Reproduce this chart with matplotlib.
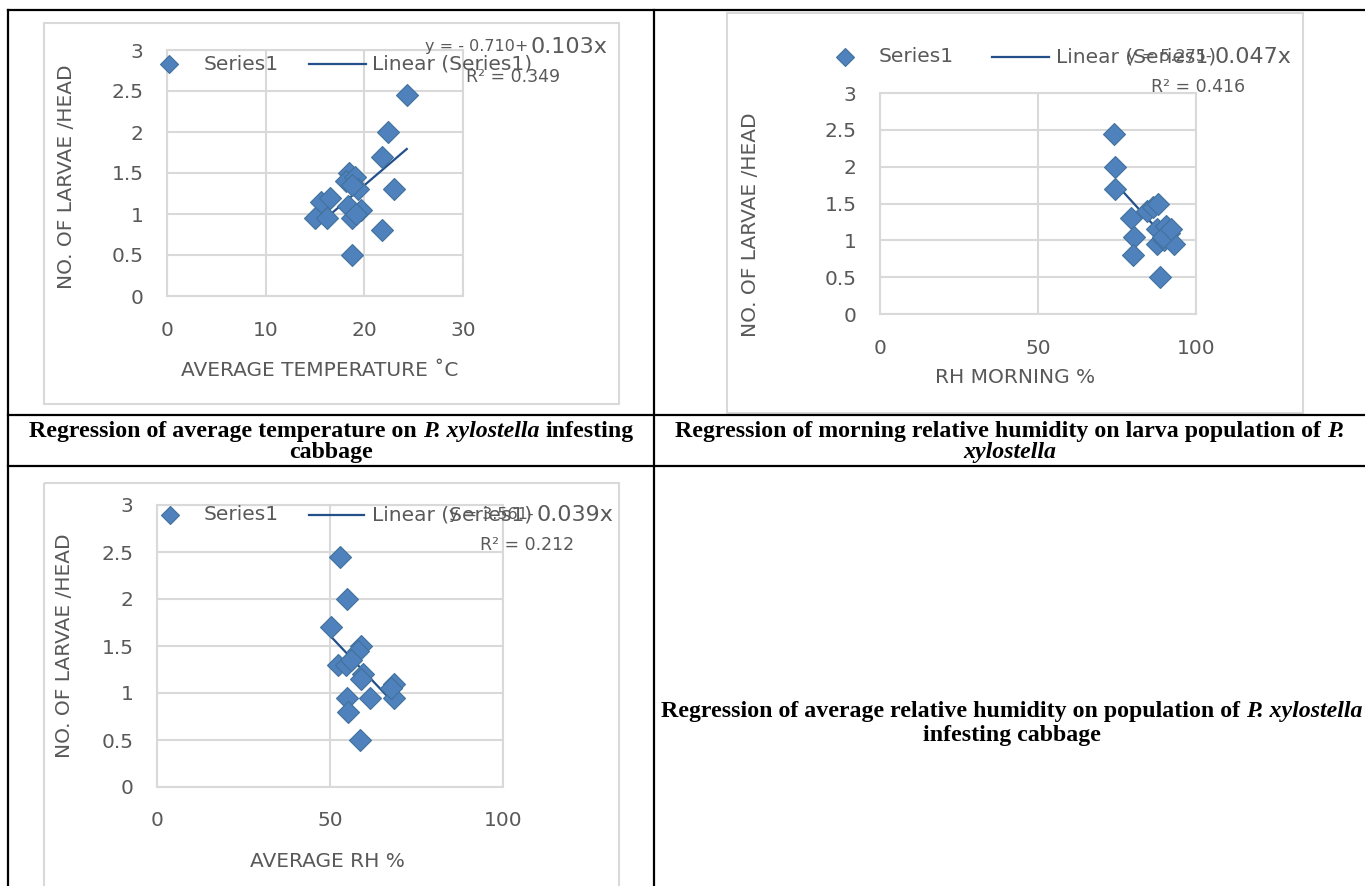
import matplotlib
matplotlib.use('Agg')
import matplotlib.pyplot as plt
from matplotlib.lines import Line2D
from matplotlib.patches import Rectangle
from matplotlib.transforms import Affine2D

# data
temp_c = [24.3, 22.4, 21.8, 23.0, 21.8, 18.7, 18.4, 18.1, 19.1, 19.4, 18.8,
          15.6, 16.5, 15.0, 16.2, 18.3, 18.8, 19.7, 19.2]
larvae_t = [2.45, 2.0, 1.7, 1.3, 0.8, 0.5, 1.5, 1.4, 1.45, 1.3, 1.35,
            1.15, 1.2, 0.95, 0.95, 1.1, 0.95, 1.05, 1.0]

rh_morning = [74.0, 74.5, 74.5, 79.5, 80.5, 80.0, 88.5, 84.5, 86.5, 88.0,
              87.5, 90.5, 91.5, 87.5, 90.0, 93.0, 89.5, 92.0]
larvae_m = [2.45, 2.0, 1.7, 1.3, 1.05, 0.8, 0.5, 1.4, 1.45, 1.5,
            1.15, 1.2, 1.1, 0.95, 1.0, 0.95, 1.05, 1.15]

rh_avg = [52.8, 54.8, 50.4, 59.0, 58.0, 52.3, 54.5, 56.0, 59.5, 59.0,
          68.5, 68.5, 67.5, 54.8, 61.5, 55.2, 58.6]
larvae_a = [2.45, 2.0, 1.7, 1.5, 1.45, 1.3, 1.3, 1.35, 1.2, 1.15,
            1.1, 0.95, 1.05, 0.95, 0.95, 0.8, 0.5]

# trendline coefficients (intercept, slope) and R^2 as printed
fit_t = (-0.710, 0.103, 0.349)
fit_m = (5.275, -0.047, 0.416)
fit_a = (3.561, -0.039, 0.212)

W, H = 1365, 886
fig = plt.figure(figsize=(W / 100, H / 100), dpi=100)
# pixel coords, y pointing down
pix = Affine2D().scale(1 / W, -1 / H).translate(0, 1) + fig.transFigure

BLUE = '#4F81BD'
EDGE = '#41719C'
TREND = '#23508A'
GRID = '#D9D9D9'
TXT = '#595959'
FS = 14.5


def add_axes_px(x0, y0, x1, y1):
    return fig.add_axes([x0 / W, 1 - y1 / H, (x1 - x0) / W, (y1 - y0) / H])


def chart(frame, plot, x, y, fit, xmax, xticks, xlabel, xlab_pos, ylab_pos,
          leg, eq, r2pos, xpad, ypad):
    fig.add_artist(Rectangle((frame[0], frame[1]), frame[2] - frame[0], frame[3] - frame[1],
                             transform=pix, fill=False, ec=GRID, lw=1.5))
    ax = add_axes_px(*plot)
    ax.set_xlim(0, xmax)
    ax.set_ylim(0, 3)
    ax.set_xticks(xticks)
    ax.set_yticks([0, 0.5, 1, 1.5, 2, 2.5, 3])
    ax.set_yticklabels(['0', '0.5', '1', '1.5', '2', '2.5', '3'])
    ax.grid(True, color=GRID, lw=1.5)
    ax.set_axisbelow(True)
    for s in ax.spines.values():
        s.set_color(GRID)
        s.set_linewidth(1.5)
    ax.tick_params(length=0, labelsize=FS, colors=TXT)
    ax.tick_params(axis='x', pad=xpad)
    ax.tick_params(axis='y', pad=ypad)
    ax.patch.set_alpha(0)

    ax.plot(x, y, 'D', ms=11, mfc=BLUE, mec=EDGE, mew=0.8, ls='none', clip_on=False, zorder=3)
    b0, b1, r2 = fit
    xs = [min(x), max(x)]
    ax.plot(xs, [b0 + b1 * v for v in xs], color=TREND, lw=1.6, zorder=2)

    ax.set_xlabel(xlabel, fontsize=FS, color=TXT, va='center', ha='center')
    ax.xaxis.set_label_coords(xlab_pos[0], xlab_pos[1], transform=pix)
    ax.set_ylabel('NO. OF LARVAE /HEAD', fontsize=FS, color=TXT, va='center', ha='center')
    ax.yaxis.set_label_coords(ylab_pos[0], ylab_pos[1], transform=pix)

    # legend drawn in pixel space
    dx, dy, tx, l0, l1, tx2 = leg
    fig.add_artist(Line2D([dx], [dy], transform=pix, marker='D', ms=9.5, mfc=BLUE, mec=EDGE, mew=0.8))
    fig.text(tx, dy, 'Series1', transform=pix, fontsize=FS, color=TXT, va='center', ha='left')
    fig.add_artist(Line2D([l0, l1], [dy, dy], transform=pix, color=TREND, lw=1.6))
    fig.text(tx2, dy, 'Linear (Series1)', transform=pix, fontsize=FS, color=TXT, va='center', ha='left')

    # trendline equation and R^2
    ex, ey, small = eq
    fig.text(ex - 3, ey, small, transform=pix, fontsize=11.5, color=TXT, va='center', ha='right')
    fig.text(ex, ey, '%.3fx' % abs(b1), transform=pix, fontsize=16, color=TXT, va='center', ha='left')
    fig.text(r2pos[0], r2pos[1], 'R² = %.3f' % r2, transform=pix, fontsize=12.5, color=TXT,
             va='center', ha='center')
    return ax


chart((44, 23, 619, 404), (167, 50, 463, 296), temp_c, larvae_t, fit_t, 30, [0, 10, 20, 30],
      'AVERAGE TEMPERATURE ˚C', (320, 370), (67, 177),
      (169, 64, 204, 309, 366, 372), (531, 47, 'y = - 0.710+'), (513, 77), 18, 17)

chart((727, 13, 1303, 413), (880, 93, 1196, 314), rh_morning, larvae_m, fit_m, 100, [0, 50, 100],
      'RH MORNING %', (1015, 378), (750, 225),
      (845, 57, 879, 992, 1049, 1056), (1215, 57, 'y = 5.275-'), (1198, 87), 18, 17)

chart((44, 483, 619, 900), (157, 505, 503, 787), rh_avg, larvae_a, fit_a, 100, [0, 50, 100],
      'AVERAGE RH %', (327, 862), (65, 646),
      (170, 515, 204, 309, 364, 372), (537, 515, 'y = 3.561-'), (527, 545), 17, 17)

# table rules
for (x0, y0, x1, y1) in [(8, 10, 1365, 10), (8, 10, 8, 886), (654, 10, 654, 886),
                         (8, 415, 1365, 415), (8, 466, 1365, 466)]:
    fig.add_artist(Line2D([x0, x1], [y0, y1], transform=pix, color='black', lw=1.6))

# captions with italic species name
renderer = fig.canvas.get_renderer()
CAP = 17.2


def caption(parts, cx, cy):
    texts = []
    for s, st in parts:
        texts.append(fig.text(0, cy, s, transform=pix, fontsize=CAP, family='Liberation Serif',
                              weight='bold', style=st, va='center', ha='left'))
    probe1 = fig.text(0, 0, 'a a', fontsize=CAP, family='Liberation Serif', weight='bold')
    probe2 = fig.text(0, 0, 'aa', fontsize=CAP, family='Liberation Serif', weight='bold')
    sp = probe1.get_window_extent(renderer).width - probe2.get_window_extent(renderer).width
    probe1.remove()
    probe2.remove()
    widths = [t.get_window_extent(renderer).width for t in texts]
    x = cx - (sum(widths) + sp * (len(widths) - 1)) / 2
    for t, w in zip(texts, widths):
        t.set_x(x)
        x += w + sp


caption([('Regression of average temperature on', 'normal'), ('P. xylostella', 'italic'),
         ('infesting', 'normal')], 331, 432)
caption([('cabbage', 'normal')], 331, 453)
caption([('Regression of morning relative humidity on larva population of', 'normal'),
         ('P.', 'italic')], 1010, 432)
caption([('xylostella', 'italic')], 1010, 453)
caption([('Regression of average relative humidity on population of', 'normal'),
         ('P. xylostella', 'italic')], 1012, 712)
caption([('infesting cabbage', 'normal')], 1012, 736)

fig.savefig('out.png', dpi=100)
